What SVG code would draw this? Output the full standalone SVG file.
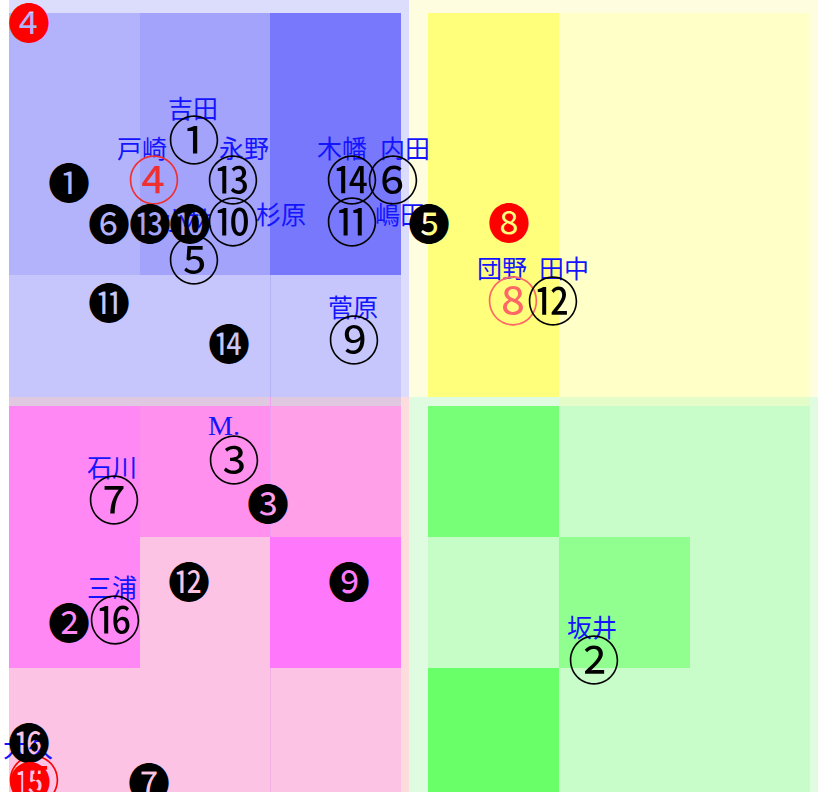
<svg xmlns="http://www.w3.org/2000/svg" width="818" height="792" viewBox="0 0 818 792">
<style>
.o{font-family:"Noto Sans CJK JP",sans-serif;font-size:52px;text-anchor:middle;dominant-baseline:central;fill:#000}
.f{font-family:"Noto Sans CJK JP",sans-serif;font-size:42px;text-anchor:middle;dominant-baseline:central;fill:#000}
.red{fill:#ff0000}
.lbl{font-family:"Liberation Serif","Noto Sans CJK JP",serif;font-size:25px;text-anchor:middle;fill:#1414ff}
.m{font-size:28px}
.gl{stroke-width:1}
</style>
<rect width="818" height="792" fill="#ffffff"/>
<g id="panel-blue">
<rect x="9" y="0" width="400" height="397" fill="#dcdcfc"/>
<rect x="9" y="13" width="131" height="262" fill="#b3b3fc"/>
<rect x="140" y="13" width="130" height="262" fill="#a3a3fc"/>
<rect x="270" y="13" width="131" height="262" fill="#7878fc"/>
<rect x="9" y="275" width="392" height="122" fill="#c6c6fc"/>
<line x1="270.5" y1="275" x2="270.5" y2="406" stroke="#b4b4f4" class="gl"/>
</g>
<g id="panel-yellow">
<rect x="409" y="0" width="409" height="397" fill="#fffde0"/>
<rect x="428" y="13" width="131" height="393" fill="#ffff7c"/>
<rect x="559" y="13" width="251" height="384" fill="#ffffc8"/>
</g>
<g id="panel-pink">
<rect x="9" y="397" width="400" height="395" fill="#fcdcdc"/>
<rect x="9" y="397" width="392" height="9" fill="#e0c8e0"/>
<rect x="9" y="406" width="131" height="262" fill="#ff88f4"/>
<rect x="140" y="406" width="130" height="131" fill="#ff90ee"/>
<rect x="270" y="406" width="131" height="131" fill="#ffa0e8"/>
<rect x="140" y="537" width="130" height="131" fill="#fcc3e4"/>
<rect x="270" y="537" width="131" height="131" fill="#ff78fc"/>
<rect x="9" y="668" width="392" height="124" fill="#fcc3e4"/>
<line x1="270.5" y1="397" x2="270.5" y2="537" stroke="#f0a0f4" class="gl"/>
<line x1="270.5" y1="668" x2="270.5" y2="792" stroke="#f4b0e4" class="gl"/>
</g>
<g id="panel-green">
<rect x="409" y="397" width="409" height="395" fill="#e0fce0"/>
<rect x="559" y="397" width="251" height="9" fill="#e4fcc8"/>
<rect x="428" y="406" width="131" height="131" fill="#78ff78"/>
<rect x="559" y="406" width="251" height="386" fill="#c8fcc8"/>
<rect x="428" y="537" width="131" height="131" fill="#c6fcc6"/>
<rect x="559" y="537" width="131" height="131" fill="#90ff90"/>
<rect x="428" y="668" width="131" height="124" fill="#68ff68"/>
</g>
<g id="connectors"/>
<g id="labels">
<text class="lbl" x="193" y="118">吉田</text>
<text class="lbl" x="592" y="637">坂井</text>
<text class="lbl m" x="224" y="435">M.</text>
<text class="lbl" x="142" y="158">戸崎</text>
<text class="lbl" x="187" y="230">小林</text>
<text class="lbl" x="405" y="158">内田</text>
<text class="lbl" x="112" y="477">石川</text>
<text class="lbl" x="502" y="278">団野</text>
<text class="lbl" x="353" y="317">菅原</text>
<text class="lbl" x="281" y="224">杉原</text>
<text class="lbl" x="400" y="224">嶋田</text>
<text class="lbl" x="564" y="278">田中</text>
<text class="lbl" x="244" y="158">永野</text>
<text class="lbl" x="342" y="158">木幡</text>
<text class="lbl" x="28" y="757">大久</text>
<text class="lbl" x="112" y="597">三浦</text>
</g>
<g id="n1"><text class="o" x="194" y="137">①</text></g>
<g id="n2"><text class="o" x="594" y="657">②</text></g>
<g id="n3"><text class="o" x="234" y="457">③</text></g>
<g id="n4"><text class="o" x="154" y="177" style="fill:#ee3030">④</text></g>
<g id="n5"><text class="o" x="194" y="257">⑤</text></g>
<g id="n6"><text class="o" x="393" y="177">⑥</text></g>
<g id="n7"><text class="o" x="114" y="497">⑦</text></g>
<g id="n8"><text class="o" x="513" y="298" style="fill:#ff6666">⑧</text></g>
<g id="n9"><text class="o" x="354" y="337">⑨</text></g>
<g id="n10"><text class="o" x="233" y="219">⑩</text></g>
<g id="n11"><text class="o" x="352" y="219">⑪</text></g>
<g id="n12"><text class="o" x="553" y="298">⑫</text></g>
<g id="n13"><text class="o" x="233" y="177">⑬</text></g>
<g id="n14"><text class="o" x="352" y="177">⑭</text></g>
<g id="n15"><text class="o" x="34" y="777" style="fill:#ff0000">⑮</text></g>
<g id="n16"><text class="o" x="115" y="617">⑯</text></g>
<g id="m4"><text class="f red" x="29" y="20">❹</text></g>
<g id="m1"><text class="f" x="69" y="180">❶</text></g>
<g id="m6"><text class="f" x="109" y="221">❻</text></g>
<g id="m13"><text class="f" x="150" y="221">⓭</text></g>
<g id="m10"><text class="f" x="190" y="221">❿</text></g>
<g id="m5"><text class="f" x="429" y="221">❺</text></g>
<g id="m8"><text class="f red" x="509" y="220">❽</text></g>
<g id="m11"><text class="f" x="109" y="300">⓫</text></g>
<g id="m14"><text class="f" x="229" y="341">⓮</text></g>
<g id="m3"><text class="f" x="268" y="501">❸</text></g>
<g id="m12"><text class="f" x="189" y="579">⓬</text></g>
<g id="m9"><text class="f" x="349" y="579">❾</text></g>
<g id="m2"><text class="f" x="69" y="620">❷</text></g>
<g id="m16"><text class="f" x="29" y="740">⓰</text></g>
<g id="m15"><text class="f red" x="30" y="779">⓯</text></g>
<g id="m7"><text class="f" x="149" y="780">❼</text></g>
</svg>
